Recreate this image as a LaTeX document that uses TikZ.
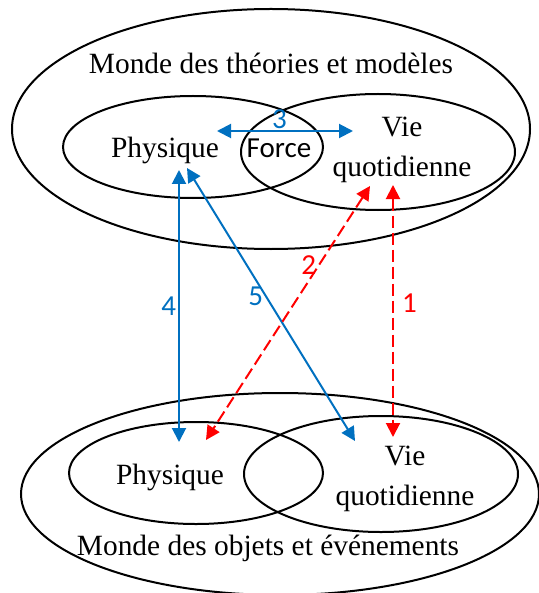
\documentclass[tikz,border=0pt]{standalone}
\usepackage{fontspec}
\setmainfont{Liberation Serif}
\newfontfamily\calibri{Carlito}
\usepackage{xcolor}
\definecolor{Azur}{HTML}{0070C0}
\definecolor{Rouge}{HTML}{FF0000}
\usetikzlibrary{arrows.meta}

\begin{document}
\begin{tikzpicture}[x=0.5pt,y=-0.5pt,>={Triangle[length=7pt,width=7pt]},
  every node/.style={inner sep=0pt,font=\fontsize{14.7}{20}\selectfont,align=center},
  monde/.style={line width=1pt},
  lien/.style={Azur,line width=1pt,<->},
  lienr/.style={Rouge,line width=1pt,<->,dash pattern=on 6pt off 2.5pt},
  num/.style={font=\calibri\fontsize{14.5}{17}\selectfont}]
\useasboundingbox (0,0) rectangle (539,593);
% monde des theories
\draw[monde] (271,129) ellipse [x radius=129.5pt,y radius=60pt];
\draw[monde] (193,147) ellipse [x radius=65pt,y radius=25.5pt];
\draw[monde] (378,152) ellipse [x radius=68.5pt,y radius=29pt];
\node[anchor=base] (tmonde) at (271,74) {Monde des théories et modèles};
\node[anchor=base] (tphys) at (165,158) {Physique};
\node[anchor=base,font=\calibri\fontsize{14.5}{17}\selectfont] (force) at (279,158) {Force};
\node (tvie) at (402,150) {Vie\\quotidienne};
% monde des objets
\draw[monde] (280,494) ellipse [x radius=129.5pt,y radius=50.5pt];
\draw[monde] (196,473) ellipse [x radius=63.5pt,y radius=25.5pt];
\draw[monde] (381,474) ellipse [x radius=68.5pt,y radius=29pt];
\node[anchor=base] (bphys) at (170,484) {Physique};
\node (bvie) at (405,479) {Vie\\quotidienne};
\node[anchor=base] (bmonde) at (268,555) {Monde des objets et événements};
% extremites des fleches
\coordinate (f3a) at (217,131);
\coordinate (f3b) at (353,131);
\coordinate (f4a) at (179,170);
\coordinate (f4b) at (179,442);
\coordinate (f5a) at (187,168);
\coordinate (f5b) at (355,441);
\coordinate (f2a) at (370,186);
\coordinate (f2b) at (206,440);
\coordinate (f1a) at (393,185);
\coordinate (f1b) at (393,437);
\draw[lien] (f3a) -- node[num,Azur,above=0.5pt,pos=0.46] (n3) {3} (f3b);
\draw[lien] (f4a) -- node[num,Azur,left=1pt,pos=0.5] (n4) {4} (f4b);
\draw[lien] (f5a) -- node[num,Azur,left=1pt,pos=0.47] (n5) {5} (f5b);
\draw[lienr] (f2a) -- node[num,Rouge,left=1pt,pos=0.31] (n2) {2} (f2b);
\draw[lienr] (f1a) -- node[num,Rouge,right=4pt,pos=0.47] (n1) {1} (f1b);
\end{tikzpicture}
\end{document}
